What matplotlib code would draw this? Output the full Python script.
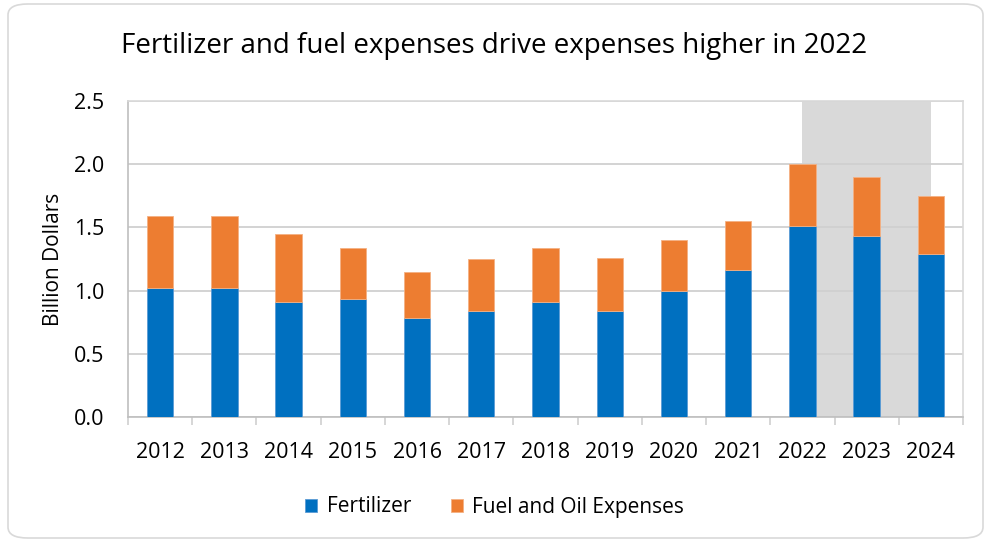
import matplotlib
matplotlib.use("Agg")
import matplotlib.pyplot as plt
from matplotlib.patches import FancyBboxPatch
import numpy as np

years = ["2012", "2013", "2014", "2015", "2016", "2017", "2018", "2019",
         "2020", "2021", "2022", "2023", "2024"]
fertilizer = [1.02, 1.02, 0.91, 0.93, 0.78, 0.84, 0.91, 0.84, 1.00, 1.16, 1.51, 1.43, 1.29]
total = [1.59, 1.59, 1.45, 1.34, 1.15, 1.25, 1.34, 1.26, 1.40, 1.55, 2.00, 1.90, 1.75]
fuel_oil = [t - f for t, f in zip(total, fertilizer)]
forecast_start, forecast_end = "2022", "2024"
yticks = [0.0, 0.5, 1.0, 1.5, 2.0, 2.5]

plt.rcParams['font.family'] = ['Open Sans', 'DejaVu Sans']

fig = plt.figure(figsize=(9.89, 5.44), dpi=100)
W, H = 989, 544
border = FancyBboxPatch((8 / W, 6 / H), (W - 14) / W, (H - 10) / H,
                        boxstyle="round,pad=0,rounding_size=0.02",
                        transform=fig.transFigure, facecolor='white',
                        edgecolor='#d9d9d9', linewidth=1.2, zorder=-10)
fig.patches.append(border)

ax = fig.add_axes([128 / W, 1 - 417 / H, (963 - 128) / W, (417 - 101) / H])
x = np.arange(len(years))
ax.axvspan(years.index(forecast_start), years.index(forecast_end),
           color='#d9d9d9', zorder=0, lw=0)
ax.bar(x, fertilizer, width=0.41, color='#0070C0', edgecolor='#5b9bd5',
       linewidth=0.6, zorder=3, label='Fertilizer')
ax.bar(x, fuel_oil, width=0.41, bottom=fertilizer, color='#ED7D31',
       edgecolor='#f4b183', linewidth=0.6, zorder=3, label='Fuel and Oil Expenses')

ax.set_xlim(-0.5, len(years) - 0.5)
ax.set_ylim(0, 2.5)
ax.set_yticks(yticks)
ax.set_yticklabels([f"{v:.1f}" for v in yticks], fontsize=15.5)
ax.yaxis.grid(True, color='#d0d0d0', linewidth=1.3, zorder=1)
ax.set_axisbelow(True)
ax.tick_params(axis='y', length=0, pad=17)
ax.set_xticks(x)
ax.set_xticklabels(years, fontsize=15.5)
ax.set_xticks(np.arange(-0.5, len(years)), minor=True)
ax.tick_params(axis='x', which='major', length=0, pad=18)
ax.tick_params(axis='x', which='minor', length=6, color='#d0d0d0', width=1.2)
for s in ['top', 'right']:
    ax.spines[s].set_color('#d9d9d9')
    ax.spines[s].set_linewidth(1.2)
for s in ['left', 'bottom']:
    ax.spines[s].set_color('#bfbfbf')
    ax.spines[s].set_linewidth(1.2)
ax.set_ylabel("Billion Dollars", fontsize=15, labelpad=7)

fig.text(0.5, 1 - 46 / H, "Fertilizer and fuel expenses drive expenses higher in 2022",
         ha='center', va='center', fontsize=20)

handles, labels = ax.get_legend_handles_labels()
fig.legend(handles, labels, loc='center', bbox_to_anchor=(0.5, 1 - 507 / H),
           ncol=2, frameon=False, fontsize=15, handlelength=0.6, handleheight=0.6,
           columnspacing=1.9, handletextpad=0.45)

fig.savefig("out.png", dpi=100)
